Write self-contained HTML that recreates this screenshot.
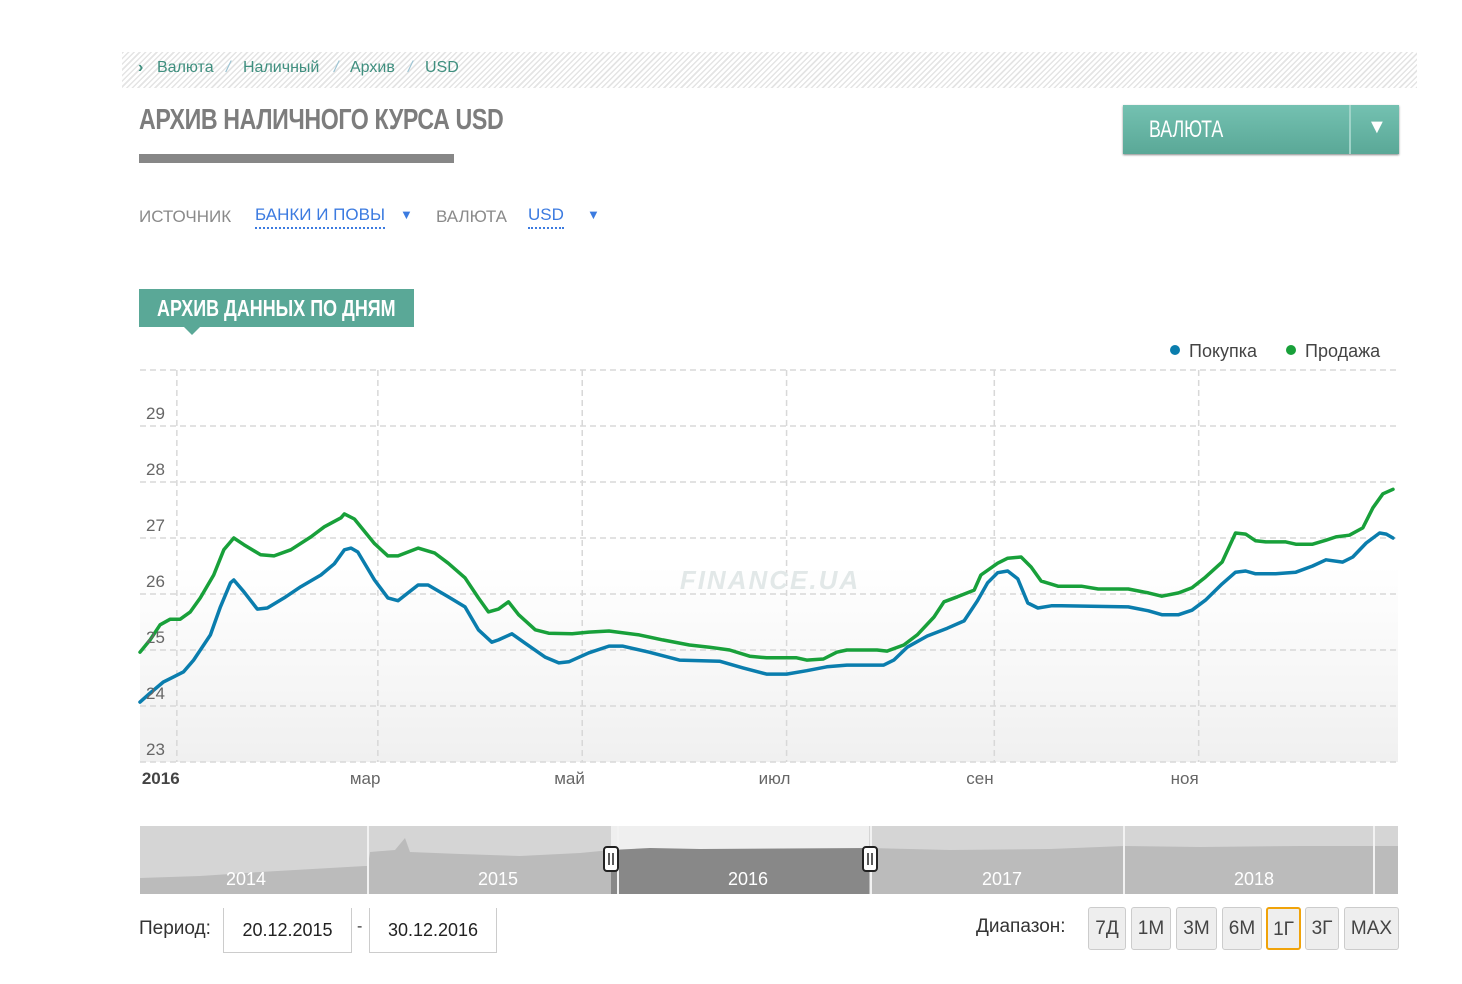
<!DOCTYPE html>
<html><head><meta charset="utf-8">
<style>
*{margin:0;padding:0;box-sizing:border-box}
body{width:1462px;height:984px;background:#fff;font-family:"Liberation Sans",sans-serif;position:relative;overflow:hidden}
.abs{position:absolute}
.crumbs{left:122px;top:52px;width:1295px;height:36px;background:repeating-linear-gradient(135deg,#e4e4e4 0 1.5px,#fff 1.5px 4px)}
.crumbs span{position:absolute;top:7px;font-size:16px;color:#3f8f7f}
.sl{color:#9cc4d4!important;font-style:italic}
.narrow{display:inline-block;transform-origin:left center;white-space:nowrap}
.title{left:139px;top:104px;font-weight:bold;font-size:29px;color:#7d7d7d;letter-spacing:-0.5px}
.bar{left:139px;top:154px;width:315px;height:9px;background:#878787}
.vbtn{left:1123px;top:105px;width:276px;height:49px;background:linear-gradient(#74c1b1,#5aa897);color:#fff;font-size:24px;box-shadow:0 1px 2px #888}
.lbl{font-size:17px;color:#8a8a8a;top:207px}
.lnk{font-size:17px;color:#3c7be0;top:205px;border-bottom:2px dotted #3c7be0;padding-bottom:2px}
.tri{color:#3c7be0;font-size:13px;top:207px}
.tab{left:139px;top:289px;width:275px;height:38px;background:#5aa897;color:#fff;font-weight:bold;font-size:23px;line-height:38px}
.tabarr{left:184px;top:327px;width:0;height:0;border-left:8px solid transparent;border-right:8px solid transparent;border-top:8px solid #5aa897}
.per{font-size:19px;color:#333}
.box{border:1px solid #ccc;border-top:none;background:#fff;height:45px;font-size:18px;color:#222;text-align:center;line-height:44px}
.rb{top:907px;height:43px;background:#eee;border:1px solid #ccc;border-radius:3px;font-size:19px;color:#444;text-align:center;line-height:41px}
</style></head><body>
<div class="abs crumbs">
 <span style="left:16px;color:#3f8f7f;font-weight:bold">›</span>
 <span style="left:35px">Валюта</span>
 <span class="sl" style="left:104px">/</span>
 <span style="left:121px">Наличный</span>
 <span class="sl" style="left:212px">/</span>
 <span style="left:228px">Архив</span>
 <span class="sl" style="left:286px">/</span>
 <span style="left:303px">USD</span>
</div>
<div class="abs title"><span class="narrow" style="transform:scaleX(0.8)">АРХИВ НАЛИЧНОГО КУРСА USD</span></div>
<div class="abs bar"></div>
<div class="abs vbtn">
 <span class="abs narrow" style="left:26px;top:11px;transform:scaleX(0.74)">ВАЛЮТА</span>
 <span class="abs" style="left:226px;top:0;width:2px;height:49px;background:#9fd3c8"></span>
 <span class="abs" style="left:244px;top:11px;font-size:20px">▼</span>
</div>
<div class="abs lbl" style="left:139px">ИСТОЧНИК</div>
<div class="abs lnk" style="left:255px">БАНКИ И ПОВЫ</div>
<div class="abs tri" style="left:400px">▼</div>
<div class="abs lbl" style="left:436px">ВАЛЮТА</div>
<div class="abs lnk" style="left:528px">USD</div>
<div class="abs tri" style="left:587px">▼</div>
<div class="abs tab"><span class="abs narrow" style="left:18px;top:0;transform:scaleX(0.78)">АРХИВ ДАННЫХ ПО ДНЯМ</span></div>
<div class="abs tabarr"></div>

<svg class="abs" style="left:0;top:0" width="1462" height="984">
 <defs>
  <linearGradient id="pbg" x1="0" y1="0" x2="0" y2="1">
   <stop offset="0" stop-color="#fff"/><stop offset="0.5" stop-color="#fff"/><stop offset="1" stop-color="#f0f0f0"/>
  </linearGradient>
 </defs>
 <rect x="140" y="370" width="1258" height="392" fill="url(#pbg)"/>
 <g id="grid"></g>
 <text x="770" y="589" font-size="26" font-style="italic" font-weight="bold" fill="#e2e8e8" text-anchor="middle" letter-spacing="2">FINANCE.UA</text>
 <g id="series"></g>
 <g id="labels" font-size="17" fill="#666"></g>
 <g>
  <circle cx="1175" cy="350" r="5" fill="#0a7dad"/>
  <text x="1189" y="357" font-size="18" fill="#444">Покупка</text>
  <circle cx="1291" cy="350" r="5" fill="#18a03a"/>
  <text x="1305" y="357" font-size="18" fill="#444">Продажа</text>
 </g>
 <g>
  <rect x="140" y="826" width="1258" height="68" fill="#d5d5d5"/>
  <path d="M140 878 L200 876 L260 872 L330 868 L365 866 L368 866 L370 852 L395 850 L405 838 L410 852 L460 854 L520 856 L580 853 L611 850 L611 894 L140 894Z" fill="#bbb"/>
  <rect x="611" y="826" width="258" height="68" fill="#efefef"/>
  <path d="M611 850 L650 848 L700 849 L869 848 L869 894 L611 894Z" fill="#888"/>
  <path d="M869 848 L950 850 L1050 849 L1124 846 L1200 847 L1300 846 L1398 846 L1398 894 L869 894Z" fill="#bbb"/>
  <g stroke="#f2f2f2" stroke-width="2"><line x1="368" y1="826" x2="368" y2="894"/><line x1="618" y1="826" x2="618" y2="894"/><line x1="871" y1="826" x2="871" y2="894"/><line x1="1124" y1="826" x2="1124" y2="894"/><line x1="1374" y1="826" x2="1374" y2="894"/></g>
  <g font-size="18" fill="#fff" text-anchor="middle"><text x="246" y="885">2014</text><text x="498" y="885">2015</text><text x="748" y="885">2016</text><text x="1002" y="885">2017</text><text x="1254" y="885">2018</text></g>
  <rect x="604" y="847" width="14" height="24" rx="3" fill="#fff" stroke="#222" stroke-width="2"/>
  <path d="M609 853v12M613 853v12" stroke="#222" stroke-width="1.5"/>
  <rect x="863" y="847" width="14" height="24" rx="3" fill="#fff" stroke="#222" stroke-width="2"/>
  <path d="M868 853v12M872 853v12" stroke="#222" stroke-width="1.5"/>
 </g>
</svg>

<div class="abs per" style="left:139px;top:918px">Период:</div>
<div class="abs box" style="left:223px;top:908px;width:129px">20.12.2015</div>
<div class="abs per" style="left:357px;top:918px;font-size:16px">-</div>
<div class="abs box" style="left:369px;top:908px;width:128px">30.12.2016</div>
<div class="abs per" style="left:976px;top:916px">Диапазон:</div>
<div class="abs rb" style="left:1088px;width:38px">7Д</div>
<div class="abs rb" style="left:1131px;width:40px">1М</div>
<div class="abs rb" style="left:1176px;width:41px">3М</div>
<div class="abs rb" style="left:1222px;width:40px">6М</div>
<div class="abs rb" style="left:1266px;width:35px;border:2px solid #f0a30a">1Г</div>
<div class="abs rb" style="left:1305px;width:34px">3Г</div>
<div class="abs rb" style="left:1344px;width:55px">MAX</div>

<script>
const sellDays=[-11,-8,-5,-2,1,4,7,11,14,17,20,25,29,34,40,44,49,50,53,59,63,66,72,77,81,86,90,93,96,99,102,107,111,118,123,129,138,145,153,159,165,171,176,185,188,193,197,200,209,212,217,221,226,229,233,238,240,245,248,252,255,258,263,270,275,284,290,294,299,303,307,312,316,319,322,325,331,334,339,343,346,350,354,357,360,363];
const sellValues=[24.96,25.18,25.45,25.55,25.55,25.68,25.93,26.34,26.79,27.0,26.88,26.70,26.68,26.79,27.02,27.2,27.36,27.43,27.34,26.9,26.68,26.68,26.82,26.73,26.55,26.29,25.93,25.68,25.73,25.86,25.63,25.36,25.30,25.29,25.32,25.34,25.27,25.18,25.09,25.05,25.0,24.89,24.86,24.86,24.82,24.84,24.96,25.0,25.0,24.98,25.09,25.27,25.59,25.86,25.95,26.07,26.34,26.55,26.64,26.66,26.48,26.23,26.14,26.14,26.09,26.09,26.02,25.96,26.02,26.11,26.30,26.57,27.09,27.07,26.95,26.93,26.93,26.89,26.89,26.96,27.02,27.05,27.18,27.54,27.79,27.87];
const buyDays=[-11,-8,-4,-1,2,5,10,13,16,17,20,24,27,32,37,43,47,50,52,54,59,63,66,69,72,75,81,86,90,94,96,100,104,110,114,117,123,129,133,141,150,162,169,176,182,188,194,200,211,214,218,224,230,235,239,242,245,248,251,254,257,261,264,284,290,294,299,303,307,312,316,319,322,328,334,339,343,348,351,355,359,361,363];
const buyValues=[24.07,24.23,24.43,24.52,24.61,24.82,25.27,25.77,26.20,26.25,26.04,25.73,25.75,25.93,26.13,26.34,26.54,26.79,26.82,26.75,26.25,25.93,25.88,26.02,26.16,26.16,25.95,25.77,25.36,25.14,25.18,25.29,25.12,24.87,24.77,24.79,24.95,25.07,25.07,24.96,24.82,24.80,24.68,24.57,24.57,24.63,24.70,24.73,24.73,24.82,25.05,25.25,25.39,25.52,25.88,26.20,26.38,26.41,26.27,25.84,25.75,25.79,25.79,25.77,25.70,25.63,25.63,25.71,25.89,26.18,26.39,26.41,26.36,26.36,26.39,26.50,26.61,26.57,26.66,26.91,27.09,27.07,27.00];
const yTicks=[23,24,25,26,27,28,29,30];
const xTickDays=[0,60,121,182,244,305];
const xTickLabels=["2016","мар","май","июл","сен","ноя"];

const NS="http://www.w3.org/2000/svg";
const X0=140,X1=1398,D0=-11,D1=364.5,Y0=762,Y1=370,V0=23,V1=30;
function xs(d){return X0+(d-D0)*(X1-X0)/(D1-D0);}
function ys(v){return Y0-(v-V0)*(Y0-Y1)/(V1-V0);}
function mk(t,a){const e=document.createElementNS(NS,t);for(const k in a)e.setAttribute(k,a[k]);return e;}
const grid=document.getElementById('grid'),labels=document.getElementById('labels'),series=document.getElementById('series');
yTicks.forEach(v=>{
 const l=mk('line',{x1:X0,x2:X1,y1:ys(v),y2:ys(v),stroke:'#d8d8d8','stroke-width':1.5,'stroke-dasharray':'6,4'});
 
 
 grid.appendChild(l);
 if(v<30){const t=mk('text',{x:146,y:ys(v)-7});t.textContent=v;
 
 
 labels.appendChild(t);}
});
xTickDays.forEach((d,i)=>{
 const l=mk('line',{x1:xs(d),x2:xs(d),y1:Y1,y2:Y0,stroke:'#d8d8d8','stroke-width':1.5,'stroke-dasharray':'6,4'});
 
 
 grid.appendChild(l);
 const t=mk('text',{x:i==0?xs(d)-35:xs(d)-28,y:784});t.textContent=xTickLabels[i];
 if(i==0){t.setAttribute('font-weight','bold');t.setAttribute('fill','#444');}
 
 
 labels.appendChild(t);
});
function line(days,vals,color,name){
 const d=days.map((x,i)=>(i?'L':'M')+xs(x).toFixed(1)+' '+ys(vals[i]).toFixed(1)).join(' ');
 const p=mk('path',{d:d,fill:'none',stroke:color,'stroke-width':3.5,'stroke-linejoin':'round','stroke-linecap':'round'});
 
 
 series.appendChild(p);
}
line(sellDays,sellValues,'#18a03a','sell-line');
line(buyDays,buyValues,'#0a7dad','buy-line');
</script>
</body></html>
